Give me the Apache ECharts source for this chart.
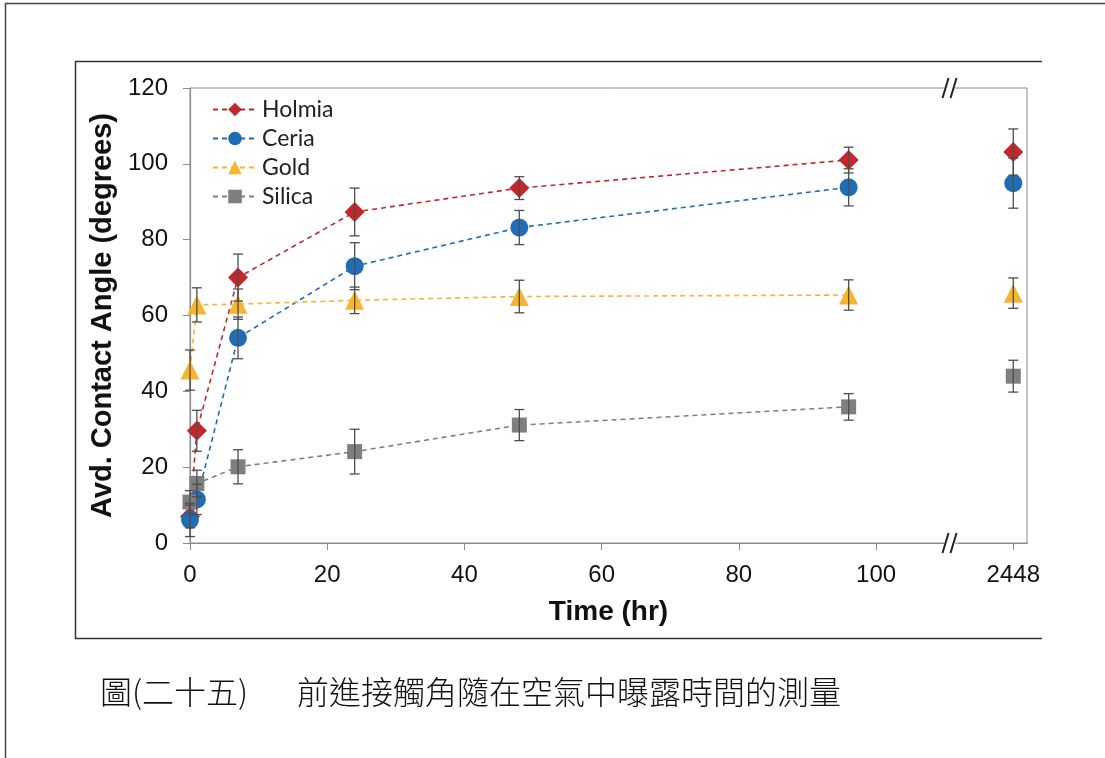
<html>
    <head>
        <meta charset="UTF-8" />
        <script src="https://cdn.jsdelivr.net/npm/echarts@6/dist/echarts.min.js"></script>
        <style>
            body { margin: 0; background: #fff; }
        </style>
    </head>
    <body>
        <div id="container" style="width: 1105px; height: 758px"></div>
        <script>
            // time points (hr); the last one sits past the axis break
            var times = [0, 1, 7, 24, 48, 96];
            var farTime = 2448;
            var xTicks = [0, 20, 40, 60, 80, 100, 2448];

            // contact angle (degrees)
            var holmia = [7, 29.6, 70, 87.3, 93.6, 101];
            var holmiaErr = [3, 5.4, 6.2, 6.3, 3, 3.4];
            var holmiaFar = 103.1, holmiaFarErr = 6.1;

            var ceria = [6.1, 11.5, 54.1, 73, 83.2, 93.8];
            var ceriaErr = [4.4, 4, 5.5, 6.2, 4.5, 4.9];
            var ceriaFar = 94.9, ceriaFarErr = 6.6;

            var gold = [45.6, 62.8, 63, 64, 65, 65.4];
            var goldErr = [5.3, 4.5, 4, 3.5, 4.3, 4];
            var goldFar = 65.9, goldFarErr = 4;

            var silica = [10.8, 15.7, 20.1, 24.1, 31.1, 35.9];
            var silicaErr = [3, 3.5, 4.5, 5.9, 4.1, 3.5];
            var silicaFar = 44, silicaFarErr = 4.2;

            var axisGrey = '#8c8c8c';
            var barGrey = '#4d4d4d';

            function pairs(xs, ys) {
                var out = [];
                for (var i = 0; i < xs.length; i++) out.push([xs[i], ys[i]]);
                return out;
            }

            function errData(xs, ys, es) {
                var out = [];
                for (var i = 0; i < xs.length; i++) out.push([xs[i], ys[i] - es[i], ys[i] + es[i]]);
                return out;
            }

            function errorBars(name, data) {
                return {
                    type: 'custom',
                    name: name,
                    z: 5,
                    silent: true,
                    encode: { x: 0, y: [1, 2] },
                    data: data,
                    renderItem: function (params, api) {
                        var x = api.value(0);
                        var top = api.coord([x, api.value(2)]);
                        var bot = api.coord([x, api.value(1)]);
                        var w = 5;
                        var st = { stroke: barGrey, lineWidth: 1.3 };
                        return {
                            type: 'group',
                            children: [
                                { type: 'line', shape: { x1: top[0], y1: top[1], x2: bot[0], y2: bot[1] }, style: st },
                                { type: 'line', shape: { x1: top[0] - w, y1: top[1], x2: top[0] + w, y2: top[1] }, style: st },
                                { type: 'line', shape: { x1: bot[0] - w, y1: bot[1], x2: bot[0] + w, y2: bot[1] }, style: st }
                            ]
                        };
                    }
                };
            }

            function makeSeries(name, color, symbol, size, ys, es, farY, farE) {
                return [
                    {
                        type: 'line',
                        name: name,
                        data: pairs(times, ys),
                        symbol: symbol,
                        symbolSize: size,
                        itemStyle: { color: color },
                        lineStyle: { color: color, width: 1.6, type: [5, 4] },
                        z: 3
                    },
                    {
                        type: 'scatter',
                        name: name + ' far',
                        data: [[farTime, farY]],
                        symbol: symbol,
                        symbolSize: size,
                        itemStyle: { color: color, opacity: 1 },
                        z: 3
                    },
                    errorBars(name + ' err', errData(times.concat([farTime]), ys.concat([farY]), es.concat([farE])))
                ];
            }

            var series = [].concat(
                makeSeries('Holmia', '#c1272d', 'diamond', 20, holmia, holmiaErr, holmiaFar, holmiaFarErr),
                makeSeries('Ceria', '#1f6db4', 'circle', 18, ceria, ceriaErr, ceriaFar, ceriaFarErr),
                makeSeries('Gold', '#f6b431', 'triangle', 19, gold, goldErr, goldFar, goldFarErr),
                makeSeries('Silica', '#7f7f7f', 'rect', 15, silica, silicaErr, silicaFar, silicaFarErr)
            );

            var chart = echarts.init(document.getElementById('container'));

            var option = {
                animation: false,
                backgroundColor: '#fff',
                grid: {
                    left: 190, top: 88, right: 78, bottom: 215,
                    show: true, borderColor: axisGrey, borderWidth: 1
                },
                legend: {
                    data: ['Holmia', 'Ceria', 'Gold', 'Silica'],
                    orient: 'vertical',
                    left: 207, top: 93,
                    itemWidth: 44, itemHeight: 17, itemGap: 6,
                    textStyle: { fontFamily: 'Lato', fontSize: 23, color: '#222' }
                },
                xAxis: {
                    type: 'value',
                    min: 0, max: 2450,
                    breaks: [{ start: 110, end: 2440, gap: 2 }],
                    breakArea: { show: false, expandOnClick: false, itemStyle: { opacity: 0 } },
                    name: 'Time (hr)',
                    nameLocation: 'middle',
                    nameGap: 55,
                    nameTextStyle: { fontFamily: 'Liberation Sans', fontWeight: 'bold', fontSize: 28, color: '#111' },
                    axisLine: { lineStyle: { color: axisGrey, width: 1.2 } },
                    axisTick: { customValues: xTicks, length: 7, lineStyle: { color: axisGrey } },
                    axisLabel: {
                        customValues: xTicks, margin: 20,
                        fontFamily: 'Liberation Sans', fontSize: 24, color: '#111',
                        formatter: function (v) { return String(v); }
                    },
                    splitLine: { show: false }
                },
                yAxis: {
                    type: 'value',
                    min: 0, max: 120, interval: 20,
                    name: 'Avd. Contact Angle (degrees)',
                    nameLocation: 'middle',
                    nameGap: 70,
                    nameTextStyle: { fontFamily: 'Liberation Sans', fontWeight: 'bold', fontSize: 29, color: '#111' },
                    axisLine: { show: true, lineStyle: { color: axisGrey, width: 1.2 } },
                    axisTick: { show: true, inside: false, length: 7, lineStyle: { color: axisGrey } },
                    axisLabel: { margin: 22, fontFamily: 'Liberation Sans', fontSize: 24, color: '#111' },
                    splitLine: { show: false }
                },
                series: series
            };
            chart.setOption(option);

            // break marks "//" on the top and bottom borders, placed through the axis scale
            var bx = (chart.convertToPixel({ xAxisIndex: 0 }, 110) + chart.convertToPixel({ xAxisIndex: 0 }, 2440)) / 2 - 2;
            var yTop = chart.convertToPixel({ yAxisIndex: 0 }, 120);
            var yBot = chart.convertToPixel({ yAxisIndex: 0 }, 0);

            function breakMark(cy) {
                return [
                    { type: 'rect', shape: { x: bx - 5, y: cy - 3, width: 10, height: 6 }, style: { fill: '#fff' }, z: 100 },
                    { type: 'line', shape: { x1: bx - 7, y1: cy + 10, x2: bx - 1, y2: cy - 10 }, style: { stroke: '#222', lineWidth: 2 }, z: 101 },
                    { type: 'line', shape: { x1: bx + 1, y1: cy + 10, x2: bx + 7, y2: cy - 10 }, style: { stroke: '#222', lineWidth: 2 }, z: 101 }
                ];
            }

            chart.setOption({
                graphic: [
                    // page frame
                    { type: 'polyline', shape: { points: [[5.5, 758], [5.5, 3.5], [1105, 3.5]] }, style: { stroke: '#444', lineWidth: 1.5, fill: null }, z: 90 },
                    // figure box
                    { type: 'polyline', shape: { points: [[1042, 61.5], [75.5, 61.5], [75.5, 638.5], [1042, 638.5]] }, style: { stroke: '#333', lineWidth: 1.5, fill: null }, z: 90 },
                    { type: 'text', left: 100, top: 676, style: { text: '圖(二十五)', fontFamily: 'Noto Sans CJK TC', fontWeight: 300, fontSize: 32, fill: '#111' }, z: 90 },
                    { type: 'text', left: 297, top: 676, style: { text: '前進接觸角隨在空氣中曝露時間的測量', fontFamily: 'Noto Sans CJK TC', fontWeight: 300, fontSize: 32, fill: '#111' }, z: 90 }
                ].concat(breakMark(yTop), breakMark(yBot))
            });
        </script>
    </body>
</html>
